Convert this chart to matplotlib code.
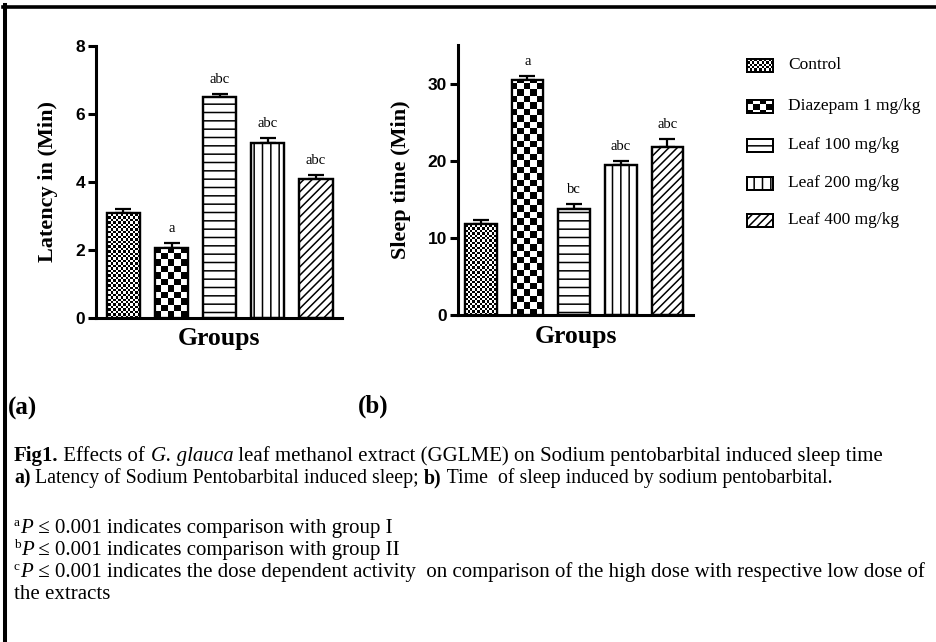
import numpy as np
import matplotlib
matplotlib.use("Agg")
import matplotlib.pyplot as plt
from matplotlib.lines import Line2D
from matplotlib.patches import Rectangle
from matplotlib.transforms import IdentityTransform

# ---------------- data ----------------
groups = ["Control", "Diazepam 1 mg/kg", "Leaf 100 mg/kg", "Leaf 200 mg/kg", "Leaf 400 mg/kg"]
latency = [3.1, 2.05, 6.5, 5.15, 4.1]
latency_err = [0.12, 0.15, 0.1, 0.15, 0.1]
latency_sig = ["", "a", "abc", "abc", "abc"]
sleep = [11.8, 30.5, 13.8, 19.5, 21.8]
sleep_err = [0.5, 0.5, 0.6, 0.4, 1.0]
sleep_sig = ["", "a", "bc", "abc", "abc"]
latency_ticks = [0, 2, 4, 6, 8]
sleep_ticks = [0, 10, 20, 30]
latency_label = "Latency in (Min)"
sleep_label = "Sleep time (Min)"
xlabel = "Groups"

# pattern per group: textures (fine / checker) or matplotlib hatches
patterns = ["fine", "checker", "--", "||", "////"]
texture_cell = {"fine": 2.4, "checker": 6.5}

plt.rcParams["hatch.linewidth"] = 1.1
SERIF = "Liberation Serif"
SANS = "Liberation Sans"

W, H = 936, 642
fig = plt.figure(figsize=(W / 100, H / 100), dpi=100)
fig.patch.set_facecolor("white")


def rect_px(x0, y_top, x1, y_bot):
    return [x0 / W, 1 - y_bot / H, (x1 - x0) / W, (y_bot - y_top) / H]


def add_texture(ax, patch, kind, extent, px_w, px_h):
    cell = texture_cell[kind]
    nx = max(1, int(round(px_w / cell)))
    ny = max(1, int(round(px_h / cell)))
    ii, jj = np.indices((ny, nx))
    arr = ((ii + jj) % 2).astype(float)
    im = ax.imshow(arr, extent=extent, cmap="gray", vmin=0, vmax=1,
                   interpolation="nearest", aspect="auto", zorder=2.5)
    im.set_clip_path(patch)
    return im


def panel(ax, box, vals, errs, sigs, ticks, ylim, xlim, width, ylabel, ylab_x, xlab_y):
    x = np.arange(len(vals))
    ax.set_xlim(*xlim)
    ax.set_ylim(*ylim)
    px_w = (box[2] - box[0])
    px_h = (box[3] - box[1])
    bars = ax.bar(x, vals, width=width, facecolor="white", edgecolor="black",
                  linewidth=1.6, zorder=2)
    for b, pat in zip(bars, patterns):
        if pat in texture_cell:
            add_texture(ax, b, pat, (xlim[0], xlim[1], ylim[0], ylim[1]), px_w, px_h)
        else:
            b.set_hatch(pat)
    ax.bar(x, vals, width=width, fill=False, edgecolor="black", linewidth=1.6, zorder=3)
    ax.errorbar(x, vals, yerr=[np.zeros(len(vals)), errs], fmt="none", ecolor="black",
                elinewidth=1.6, capsize=6, capthick=1.6, zorder=1)
    for xi, v, e, s in zip(x, vals, errs, sigs):
        if s:
            ax.annotate(s, (xi, v + e), xytext=(0, 10.5), textcoords="offset points",
                        ha="center", va="center", fontsize=10.5, family=SERIF)
    ax.set_xlim(*xlim)
    ax.set_ylim(*ylim)
    ax.set_yticks(ticks)
    ax.set_yticklabels([str(t) for t in ticks], fontsize=12.5, fontweight="bold", family=SANS)
    ax.set_xticks([])
    for side in ("top", "right"):
        ax.spines[side].set_visible(False)
    for side in ("left", "bottom"):
        ax.spines[side].set_linewidth(2.2)
    ax.tick_params(axis="y", length=6, width=2.2, pad=2)
    ax.set_ylabel(ylabel, fontsize=16, fontweight="bold", family=SERIF)
    ax.yaxis.set_label_coords(ylab_x, 0.5)
    ax.set_xlabel(xlabel, fontsize=18.5, fontweight="bold", family=SERIF, va="center")
    ax.xaxis.set_label_coords(0.5, xlab_y)
    ax.set_facecolor("none")


box1 = (96, 46, 342, 318)
ax1 = fig.add_axes(rect_px(*box1))
panel(ax1, box1, latency, latency_err, latency_sig, latency_ticks, (0, 8), (-0.57, 4.54), 0.69,
      latency_label, (58 - 96) / 246, (318 - 339) / 272)

box2 = (458, 45, 693, 315)
ax2 = fig.add_axes(rect_px(*box2))
panel(ax2, box2, sleep, sleep_err, sleep_sig, sleep_ticks, (0, 35), (-0.49, 4.55), 0.68,
      sleep_label, (411 - 458) / 235, (315 - 336) / 270)

# ---------------- legend (drawn in pixel coordinates) ----------------
lg = (740, 40, 936, 245)
axl = fig.add_axes(rect_px(*lg))
axl.set_xlim(lg[0], lg[2])
axl.set_ylim(lg[3], lg[1])
axl.axis("off")
legend_rows = [65, 106, 145, 183, 220]
for g, pat, yc in zip(groups, patterns, legend_rows):
    r = Rectangle((747, yc - 6.5), 26, 13, facecolor="white", edgecolor="black",
                  linewidth=1.4, zorder=2)
    axl.add_patch(r)
    if pat in texture_cell:
        add_texture(axl, r, pat, (lg[0], lg[2], lg[3], lg[1]), lg[2] - lg[0], lg[3] - lg[1])
    else:
        r.set_hatch(pat)
    axl.add_patch(Rectangle((747, yc - 6.5), 26, 13, fill=False, edgecolor="black",
                            linewidth=1.4, zorder=3))
    axl.text(788, yc, g, va="center", ha="left", fontsize=12.5, family=SERIF)
axl.set_xlim(lg[0], lg[2])
axl.set_ylim(lg[3], lg[1])

# ---------------- caption text ----------------
renderer = fig.canvas.get_renderer()


def text_width(s, size, weight="normal", style="normal"):
    kw = dict(fontsize=size, family=SERIF, fontweight=weight, fontstyle=style,
              transform=IdentityTransform())
    t1 = fig.text(0, 0, "|" + s + "|", **kw)
    t2 = fig.text(0, 0, "||", **kw)
    w = t1.get_window_extent(renderer).width - t2.get_window_extent(renderer).width
    t1.remove()
    t2.remove()
    return w


def rich_line(x, baseline_top, pieces, size):
    y = H - baseline_top
    for s, st in pieces:
        sz = st.get("size", size)
        wt = st.get("weight", "normal")
        sty = st.get("style", "normal")
        fig.text(x, y + st.get("dy", 0), s, transform=IdentityTransform(), fontsize=sz,
                 family=SERIF, fontweight=wt, fontstyle=sty, va="baseline", ha="left")
        x += text_width(s, sz, wt, sty)


CAP = 15
B = {"weight": "bold"}
N = {}
I = {"style": "italic"}
SUP = {"size": 9.5, "dy": 7}

fig.text(8, H - 408, "(a)", transform=IdentityTransform(), fontsize=18, fontweight="bold",
         family=SERIF, va="center", ha="left")
fig.text(358, H - 406, "(b)", transform=IdentityTransform(), fontsize=18, fontweight="bold",
         family=SERIF, va="center", ha="left")

rich_line(14, 461, [("Fig1.", B), (" Effects of ", N), ("G. glauca", I),
                    (" leaf methanol extract (GGLME) on Sodium pentobarbital induced sleep time", N)], CAP)
rich_line(14, 483, [("a)", B), (" Latency of Sodium Pentobarbital induced sleep; ", N), ("b)", B),
                    (" Time  of sleep induced by sodium pentobarbital.", N)], 14.3)
rich_line(14, 533, [("a", SUP), ("P", I), (" \u2264 0.001 indicates comparison with group I", N)], CAP)
rich_line(14, 555, [("b", SUP), ("P", I), (" \u2264 0.001 indicates comparison with group II", N)], CAP)
rich_line(14, 577, [("c", SUP), ("P", I),
                    (" \u2264 0.001 indicates the dose dependent activity  on comparison of the high dose with respective low dose of", N)], CAP)
rich_line(14, 599, [("the extracts", N)], CAP)

# ---------------- frame lines ----------------
fig.add_artist(Line2D([3 / W, 1], [1 - 6.5 / H, 1 - 6.5 / H], transform=fig.transFigure,
                      color="black", linewidth=2.6))
fig.add_artist(Line2D([5 / W, 5 / W], [0, 1 - 5 / H], transform=fig.transFigure,
                      color="black", linewidth=2.9))

fig.savefig("out.png", dpi=100, facecolor="white")
